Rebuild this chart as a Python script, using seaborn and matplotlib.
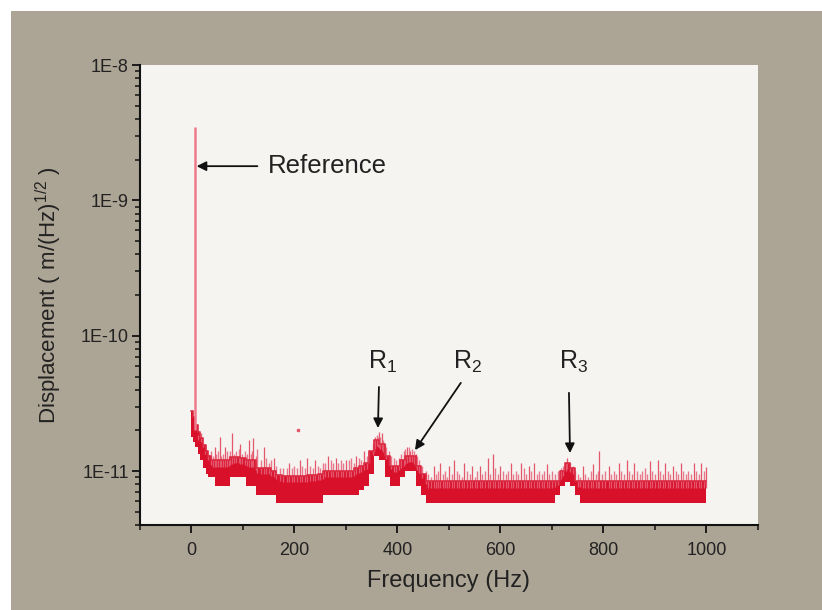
import numpy as np
import matplotlib
matplotlib.use('Agg')
import matplotlib.pyplot as plt
import matplotlib.ticker as mticker
from matplotlib.patches import Rectangle
import seaborn as sns

# noise band (values in 1E-12 m/Hz^1/2)
freq = [0, 5, 10, 15, 20, 25, 30, 35] + list(range(40, 1001, 10))
band_low = ([18, 16.5, 15, 13.5, 12, 10.5, 9.6, 9.0,
             9.0, 7.8, 7.8, 7.8, 9.0, 9.0,
             9.0, 7.8, 7.8, 6.7, 6.7, 6.7, 6.7, 5.8, 5.8, 5.8,
             5.8, 5.8, 5.8, 5.8, 5.8, 5.8, 6.7, 6.7, 6.7, 6.7,
             6.7, 6.7, 6.7, 7.2, 7.8, 9.5, 13, 12, 9.0, 7.8,
             7.8, 9.0, 10, 10, 7.8, 6.7]
            + [5.8] * 25
            + [6.7, 7.8, 8.3, 7.8, 6.7]
            + [5.8] * 25)
band_high = ([28, 25, 22, 19.5, 17.5, 15.5, 14, 13,
              12, 12, 12, 12, 12.8, 12.8,
              12.5, 12, 12, 10.5, 10.5, 10.5, 10, 9.4, 9.2, 9.2,
              9.2, 9.2, 9.2, 9.4, 9.4, 9.6, 10, 10, 10, 10,
              10, 10, 10.5, 11, 11.5, 14, 17, 16, 13, 11,
              11, 12, 13, 13, 11, 9.5]
             + [8.4] * 25
             + [8.5, 10, 11.5, 10.5, 8.5]
             + [8.4] * 25)

# tall isolated spikes above the band (Hz, top value in 1E-12)
spike_freq = [13, 18, 45, 55, 65, 78, 95, 112, 120, 140, 160, 190, 210, 225, 240,
              265, 280, 300, 320, 335, 357, 365, 370, 418, 425, 435,
              470, 482, 500, 510, 530, 545, 560, 575, 585, 600, 620, 640, 655, 665,
              690, 730, 760, 780, 792, 810, 830, 845, 860, 890, 905, 920, 935, 950,
              975, 990, 1000]
spike_top = [17, 19, 15, 18, 15, 19, 16, 17, 17.5, 15, 12.5, 11.5, 12, 12.5, 12,
             13, 12.5, 12, 13, 14, 18, 19.5, 19, 15, 14, 13.5,
             11, 11.5, 11, 12, 11.5, 11, 11, 12.5, 13.5, 11, 11.5, 11.5, 11, 11.5,
             11.2, 12.5, 11, 11.2, 14, 11, 11.5, 12, 11.5, 11.8, 12, 11.5, 11, 11.5,
             11.5, 11.5, 10.8]

# short ragged spikes just over the band
fringe_freq = [22, 27, 33, 38, 42, 48, 52, 58, 62, 68, 72, 75, 83, 87, 92, 98, 103, 107,
               115, 118, 125, 128, 135, 145, 150, 155, 165, 172, 178, 185, 195, 200, 205,
               215, 220, 230, 235, 245, 250, 255, 260, 270, 275, 285, 290, 295, 305, 310,
               315, 325, 330, 340, 345, 352, 355, 360, 362, 367, 372, 375, 378, 383, 387,
               393, 397, 403, 407, 412, 415, 422, 428, 432, 438, 442, 447,
               455, 460, 465, 475, 478, 488, 492, 497, 505, 515, 520, 525, 535, 540, 550,
               555, 565, 570, 580, 590, 595, 605, 610, 615, 625, 630, 635, 645, 650, 660,
               670, 675, 680, 685, 695, 700, 705, 712, 718, 722, 727, 735, 740, 745, 750,
               755, 765, 770, 775, 785, 790, 797, 803, 815, 820, 825, 835, 840, 850, 855,
               865, 870, 875, 880, 885, 895, 900, 910, 915, 925, 930, 940, 945, 955, 960,
               965, 970, 980, 985, 995]
fringe_top = [16, 14, 13.5, 14, 13, 13.5, 14, 13, 13.5, 14, 13, 14, 13.5, 14, 14.5, 13.5, 14, 13.5,
              13.5, 14, 13, 14.5, 12, 12.5, 11.5, 12, 11, 10.5, 10.5, 10.5, 10.5, 11, 10.5,
              11, 10.5, 11, 10.5, 11, 10.5, 11.5, 11.5, 12, 11.5, 11.5, 12, 11.5, 12, 12.5,
              11.5, 12.5, 12, 13, 14, 16, 17, 18.5, 18, 18, 17, 16, 15, 14, 13,
              12.5, 12, 12.5, 13.5, 14, 14.5, 15, 14.5, 14, 13, 12, 11,
              10, 9.5, 9, 9.5, 10, 9.5, 10, 9, 9.5, 10, 9.5, 9, 10, 9.5, 9,
              10, 9.5, 10, 9.5, 10.5, 9.5, 10, 9.5, 10, 9.5, 10, 9.5, 10.5, 9.5, 10,
              9.5, 10, 9.5, 10, 9.5, 10, 9.5, 10, 10.5, 11, 11.5, 11.5, 11, 10, 9.5,
              9, 9.5, 9, 10, 9.5, 10, 9.5, 10, 9.5, 10, 9.5, 10, 9.5, 10, 9.5,
              10, 9.5, 10, 10.5, 9.5, 10, 9.5, 10, 9.5, 10, 9.5, 10, 9.5, 10, 9.5,
              10, 9.5, 10, 9.5, 10]

ref_freq = 7
ref_top = 3.5e-9
dot_freq, dot_val = 206, 20e-12

sns.set_style('ticks')
plt.rcParams['font.family'] = ['Liberation Sans', 'DejaVu Sans']
plt.rcParams['mathtext.fontset'] = 'custom'
plt.rcParams['mathtext.rm'] = 'Liberation Sans'
plt.rcParams['mathtext.it'] = 'Liberation Sans:italic'

fig = plt.figure(figsize=(8.22, 6.1), dpi=100, facecolor='white')
fig.patches.append(Rectangle((11 / 822, 0), 1, 1 - 11 / 610, transform=fig.transFigure,
                             facecolor='#aca494', edgecolor='none', zorder=-10))
ax = fig.add_axes([0.1703, 0.1393, 0.7518, 0.7541])
ax.set_facecolor('#f5f4f1')

low = np.array(band_low) * 1e-12
high = np.array(band_high) * 1e-12

# spikes stand on the band (bottom taken from the band's upper edge)
fringe_base = np.interp(fringe_freq, freq, high) * 0.9
spike_base = np.interp(spike_freq, freq, high) * 0.9
ax.vlines(fringe_freq, fringe_base, np.array(fringe_top) * 1e-12, color='#e8627a', lw=1.0, alpha=0.85)
ax.vlines(spike_freq, spike_base, np.array(spike_top) * 1e-12, color='#e4566a', lw=0.9)

ax.fill_between(freq, low, high, step='mid', color='#d8102a', lw=0)
sns.lineplot(x=freq, y=high, drawstyle='steps-mid', color='#dc2a42', lw=1.2, ax=ax)

ax.vlines(ref_freq, 2e-11, ref_top, color='#f07a8c', lw=1.8)
ax.plot([dot_freq], [dot_val], 's', ms=2, color='#e4566a')

ax.set_yscale('log')
ax.set_xlim(-100, 1100)
ax.set_ylim(4e-12, 1e-8)
ax.xaxis.set_major_locator(mticker.MultipleLocator(200))
ax.xaxis.set_minor_locator(mticker.MultipleLocator(100))
ax.yaxis.set_major_locator(mticker.FixedLocator([1e-11, 1e-10, 1e-9, 1e-8]))
ax.yaxis.set_major_formatter(mticker.FixedFormatter(['1E-11', '1E-10', '1E-9', '1E-8']))
ax.yaxis.set_minor_locator(mticker.LogLocator(base=10, subs=np.arange(2, 10)))
ax.yaxis.set_minor_formatter(mticker.NullFormatter())

for s in ['top', 'right']:
    ax.spines[s].set_visible(False)
for s in ['left', 'bottom']:
    ax.spines[s].set_linewidth(1.5)
    ax.spines[s].set_color('#111111')
ax.tick_params(which='major', length=6, width=1.3, labelsize=13, colors='#111111', labelcolor='#222222')
ax.tick_params(which='minor', length=3.5, width=1.1, colors='#111111')
ax.tick_params(axis='y', which='major', pad=2)
ax.tick_params(axis='x', which='major', pad=6)

ax.set_xlabel('Frequency (Hz)', fontsize=17, color='#222222', labelpad=8)
ax.set_ylabel('Displacement ( m/(Hz)$^{1/2}$ )', fontsize=16, color='#222222', labelpad=12)

arrow = dict(arrowstyle='-|>', color='#111111', lw=1.3, mutation_scale=14, shrinkA=0, shrinkB=0)
ax.annotate('', xy=(10, 1.79e-9), xytext=(128, 1.79e-9), arrowprops=arrow)
ax.text(148, 1.79e-9, 'Reference', fontsize=18.5, color='#222222', va='center', ha='left')

ax.annotate('', xy=(362, 2.08e-11), xytext=(364, 4.19e-11), arrowprops=arrow)
ax.text(372, 6.4e-11, 'R$_1$', fontsize=18, color='#222222', va='center', ha='center')

ax.annotate('', xy=(434, 1.43e-11), xytext=(523, 4.49e-11), arrowprops=arrow)
ax.text(537, 6.4e-11, 'R$_2$', fontsize=18, color='#222222', va='center', ha='center')

ax.annotate('', xy=(735, 1.36e-11), xytext=(733, 3.79e-11), arrowprops=arrow)
ax.text(742, 6.4e-11, 'R$_3$', fontsize=18, color='#222222', va='center', ha='center')

fig.savefig('out.png', dpi=100, facecolor=fig.get_facecolor())
